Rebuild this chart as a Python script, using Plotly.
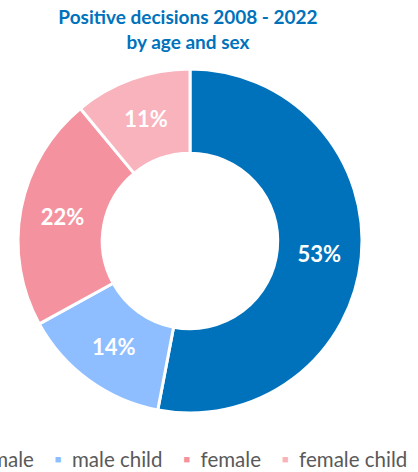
import plotly.graph_objects as go

labels = ["male", "male child", "female", "female child"]
values = [53, 14, 22, 11]
colors = ["#0072BC", "#8EBEFF", "#F4939F", "#F8B3BD"]
title_text = "Positive decisions 2008 - 2022<br>by age and sex"

W, H = 418, 472

fig = go.Figure(
    go.Pie(
        labels=labels,
        values=values,
        sort=False,
        direction="clockwise",
        rotation=0,
        hole=0.51,
        marker=dict(colors=colors, line=dict(color="white", width=3)),
        texttemplate="%{percent:.0%}",
        textposition="inside",
        insidetextorientation="horizontal",
        textfont=dict(family="Lato", size=22, color="white", weight="bold"),
        showlegend=False,
        hoverinfo="label+percent",
        domain=dict(x=[18 / W, 362 / W], y=[(H - 413) / H, (H - 69) / H]),
    )
)

# legend drawn as a single text line built from labels and colors
gap = "&nbsp;" * 4
parts = []
for lab, col in zip(labels, colors):
    parts.append(
        f"<span style='color:{col};font-size:11px;baseline-shift:4px'>■</span>&nbsp;&nbsp;{lab}"
    )
legend_text = gap.join(parts)

fig.add_annotation(
    text=legend_text,
    xref="paper", yref="paper",
    x=409 / W, y=(H - 459) / H,
    xanchor="right", yanchor="middle",
    showarrow=False,
    font=dict(family="Lato", size=20.5, color="#595959"),
)

fig.update_layout(
    width=W,
    height=H,
    margin=dict(l=0, r=0, t=0, b=0),
    paper_bgcolor="white",
    plot_bgcolor="white",
    title=dict(
        text=title_text,
        x=188 / W,
        xanchor="center",
        y=1 - 24 / H,
        yanchor="top",
        font=dict(family="Lato", size=19, color="#0072BC", weight="bold"),
    ),
)

fig.write_html(
    "out.html",
    config={"displayModeBar": False},
    post_script="document.body.style.margin='0';document.body.style.overflow='hidden';",
)
